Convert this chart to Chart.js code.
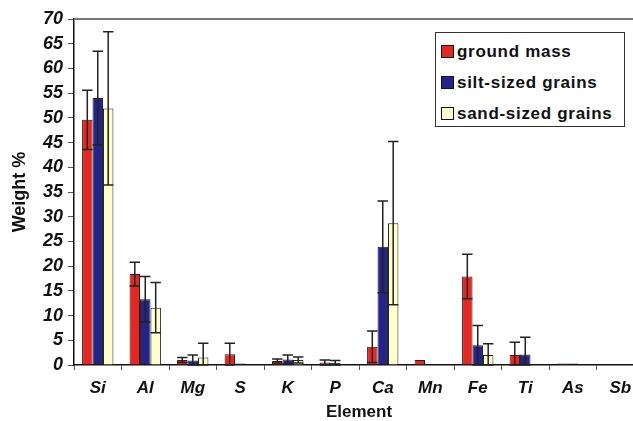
<!DOCTYPE html>
<html lang="en">
<head>
    <meta charset="UTF-8">
    <title>Weight % by element</title>
    <script src="https://cdn.jsdelivr.net/npm/chart.js"></script>
    <style>
        html, body {
            margin: 0;
            padding: 0;
            overflow: hidden;
            background: #fff;
            font-family: "Liberation Sans", Arial, sans-serif;
        }
        #wrap {
            position: relative;
            width: 633px;
            height: 421px;
            overflow: hidden;
        }
        #legend {
            position: absolute;
            left: 435px;
            top: 32px;
            width: 190px;
            height: 95px;
            border: 1px solid #333;
            background: #fff;
            box-sizing: border-box;
            padding-top: 3px;
        }
        .item {
            height: 31px;
            line-height: 31px;
            font-size: 17px;
            font-weight: bold;
            color: #111;
            white-space: nowrap;
            letter-spacing: 0.7px;
        }
        .sw {
            display: inline-block;
            width: 11px;
            height: 11px;
            border: 1px solid #111;
            margin: 0 3px 0 5px;
            vertical-align: -1px;
        }
    </style>
</head>
<body>
<div id="wrap">
    <canvas id="elemChart" width="652" height="421"></canvas>
    <div id="legend">
        <div class="item"><span class="sw" style="background:#E8261F"></span>ground mass</div>
        <div class="item"><span class="sw" style="background:#23238A"></span>silt-sized grains</div>
        <div class="item"><span class="sw" style="background:#FFFFCC"></span>sand-sized grains</div>
    </div>
</div>

<script>
    const elements = ['Si', 'Al', 'Mg', 'S', 'K', 'P', 'Ca', 'Mn', 'Fe', 'Ti', 'As', 'Sb'];

    const groundMass    = [49.6, 18.4, 1.0, 2.2, 0.8, 0.5, 3.7, 1.0, 17.9, 2.0, 0.3, 0.0];
    const groundMassErr = [6.0, 2.4, 0.5, 2.2, 0.4, 0.5, 3.2, 0.0, 4.5, 2.6, 0.0, 0.0];
    const siltGrains    = [54.0, 13.3, 0.9, 0.3, 1.1, 0.4, 23.9, 0.1, 4.0, 2.1, 0.3, 0.0];
    const siltErr       = [9.5, 4.6, 1.1, 0.0, 0.9, 0.5, 9.3, 0.0, 4.0, 3.5, 0.0, 0.0];
    const sandGrains    = [51.9, 11.6, 1.5, 0.1, 1.0, 0.0, 28.7, 0.0, 2.0, 0.1, 0.0, 0.0];
    const sandErr       = [15.5, 5.1, 2.9, 0.0, 0.6, 0.0, 16.5, 0.0, 2.3, 0.0, 0.0, 0.0];

    const yTicks = [0, 5, 10, 15, 20, 25, 30, 35, 40, 45, 50, 55, 60, 65, 70];

    // error bars + gray frame line on top of the plot
    const errorBars = {
        id: 'errorBars',
        afterDatasetsDraw(chart) {
            const ctx = chart.ctx;
            const y = chart.scales.y;
            const area = chart.chartArea;
            ctx.save();
            ctx.strokeStyle = '#777';
            ctx.lineWidth = 2;
            ctx.beginPath();
            ctx.moveTo(area.left, area.top);
            ctx.lineTo(area.right, area.top);
            ctx.lineTo(area.right, area.bottom);
            ctx.stroke();

            ctx.strokeStyle = '#222';
            ctx.lineWidth = 1.5;
            chart.data.datasets.forEach((ds, di) => {
                const meta = chart.getDatasetMeta(di);
                meta.data.forEach((bar, i) => {
                    const err = ds.errors[i];
                    if (!err) return;
                    const v = ds.data[i];
                    const x = bar.x;
                    const hw = bar.width / 2;
                    const top = y.getPixelForValue(v + err);
                    const bot = y.getPixelForValue(Math.max(v - err, 0));
                    ctx.beginPath();
                    ctx.moveTo(x, top);
                    ctx.lineTo(x, bot);
                    ctx.moveTo(x - hw, top);
                    ctx.lineTo(x + hw, top);
                    ctx.moveTo(x - hw, bot);
                    ctx.lineTo(x + hw, bot);
                    ctx.stroke();
                });
            });
            ctx.restore();
        }
    };

    const ctx1 = document.getElementById('elemChart').getContext('2d');
    const elemChart = new Chart(ctx1, {
        type: 'bar',
        data: {
            labels: elements,
            datasets: [
                {
                    label: 'ground mass',
                    data: groundMass,
                    errors: groundMassErr,
                    backgroundColor: '#E8261F',
                    borderColor: '#222',
                    borderWidth: 1
                },
                {
                    label: 'silt-sized grains',
                    data: siltGrains,
                    errors: siltErr,
                    backgroundColor: '#23238A',
                    borderColor: '#222',
                    borderWidth: 1
                },
                {
                    label: 'sand-sized grains',
                    data: sandGrains,
                    errors: sandErr,
                    backgroundColor: '#FFFFCC',
                    borderColor: '#222',
                    borderWidth: 1
                }
            ]
        },
        options: {
            responsive: false,
            animation: false,
            layout: {
                padding: { top: 19, right: 8, left: 0, bottom: 0 }
            },
            plugins: {
                legend: { display: false },
                tooltip: { enabled: false }
            },
            categoryPercentage: 0.66,
            barPercentage: 1.0,
            scales: {
                x: {
                    grid: {
                        display: true,
                        drawOnChartArea: false,
                        offset: true,
                        tickLength: 5,
                        color: '#555'
                    },
                    border: { color: '#111', width: 1.5 },
                    ticks: {
                        color: '#111',
                        padding: 8,
                        font: { family: '"Liberation Sans", Arial', size: 17, weight: 'bold', style: 'italic' }
                    },
                    title: {
                        display: true,
                        text: 'Element',
                        color: '#111',
                        padding: { top: 0, bottom: 0 },
                        font: { family: '"Liberation Sans", Arial', size: 17, weight: 'bold', lineHeight: 1 }
                    },
                    afterFit(scale) { scale.height = 56; }
                },
                y: {
                    min: 0,
                    max: 70,
                    afterBuildTicks(scale) {
                        scale.ticks = yTicks.map(v => ({ value: v }));
                    },
                    grid: {
                        display: true,
                        drawOnChartArea: false,
                        tickLength: 6,
                        color: '#555'
                    },
                    border: { color: '#111', width: 1.5 },
                    ticks: {
                        color: '#111',
                        padding: 5,
                        font: { family: '"Liberation Sans", Arial', size: 18, weight: 'bold', style: 'italic' }
                    },
                    title: {
                        display: true,
                        text: 'Weight %',
                        color: '#111',
                        padding: { top: 9, bottom: 0 },
                        font: { family: '"Liberation Sans", Arial', size: 18, weight: 'bold' }
                    },
                    afterFit(scale) { scale.width = 74; }
                }
            }
        },
        plugins: [errorBars]
    });
</script>
</body>
</html>
